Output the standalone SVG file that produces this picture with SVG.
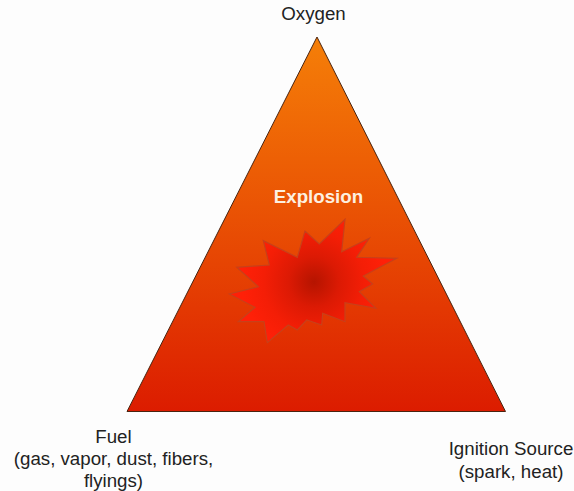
<svg xmlns="http://www.w3.org/2000/svg" width="574" height="491" viewBox="0 0 574 491">
<style>
.t{font-family:"Liberation Sans",Arial,sans-serif;font-size:18.7px;fill:#222;text-anchor:middle}
</style>
<defs>
<linearGradient id="tri" x1="0" y1="0" x2="0" y2="1"><stop offset="0" stop-color="#f57f08"/><stop offset="0.45" stop-color="#ea5404"/><stop offset="1" stop-color="#dc1c00"/></linearGradient>
<radialGradient id="star" gradientUnits="userSpaceOnUse" cx="314" cy="282" r="72"><stop offset="0" stop-color="#b51400"/><stop offset="0.35" stop-color="#dc1a04"/><stop offset="0.7" stop-color="#f41e06"/><stop offset="1" stop-color="#ff2008"/></radialGradient>
</defs>
<rect width="574" height="491" fill="#fdfdfd"/>
<g id="triangle"><polygon points="317,37 127,411.5 505.500,411.500" fill="url(#tri)" stroke="#4a2410" stroke-width="1"/></g>
<g id="explosion">
<polygon points="263.3,240.7 269.3,265 236.7,267.3 258.3,286.7 229.3,294 255,307.3 238.3,321.700 264,321.700 267.3,342.7 288.3,325 297.3,330 306.700,320 321.700,325 322.700,313.300 345,321.700 345,302.700 376,308.300 359.300,291.700 372.700,284 363.300,276 396.700,258.300 356.700,257.300 369.300,238.300 341.700,251.700 345,219.300 319.300,244 305,231 297.300,257.300" fill="url(#star)" stroke="#c8401a" stroke-width="1.200"/>
<text class="t" x="318.500" y="203" style="font-weight:bold;fill:#fdf0e0">Explosion</text>
</g>
<g id="oxygen"><text class="t" x="313.500" y="20">Oxygen</text></g>
<g id="fuel"><text class="t" x="113.500" y="443">Fuel</text><text class="t" x="113.500" y="465">(gas, vapor, dust, fibers,</text><text class="t" x="113.500" y="487">flyings)</text></g>
<g id="ignition"><text class="t" x="511" y="455">Ignition Source</text><text class="t" x="511" y="478">(spark, heat)</text></g>
<g id="connectors"/>
</svg>
